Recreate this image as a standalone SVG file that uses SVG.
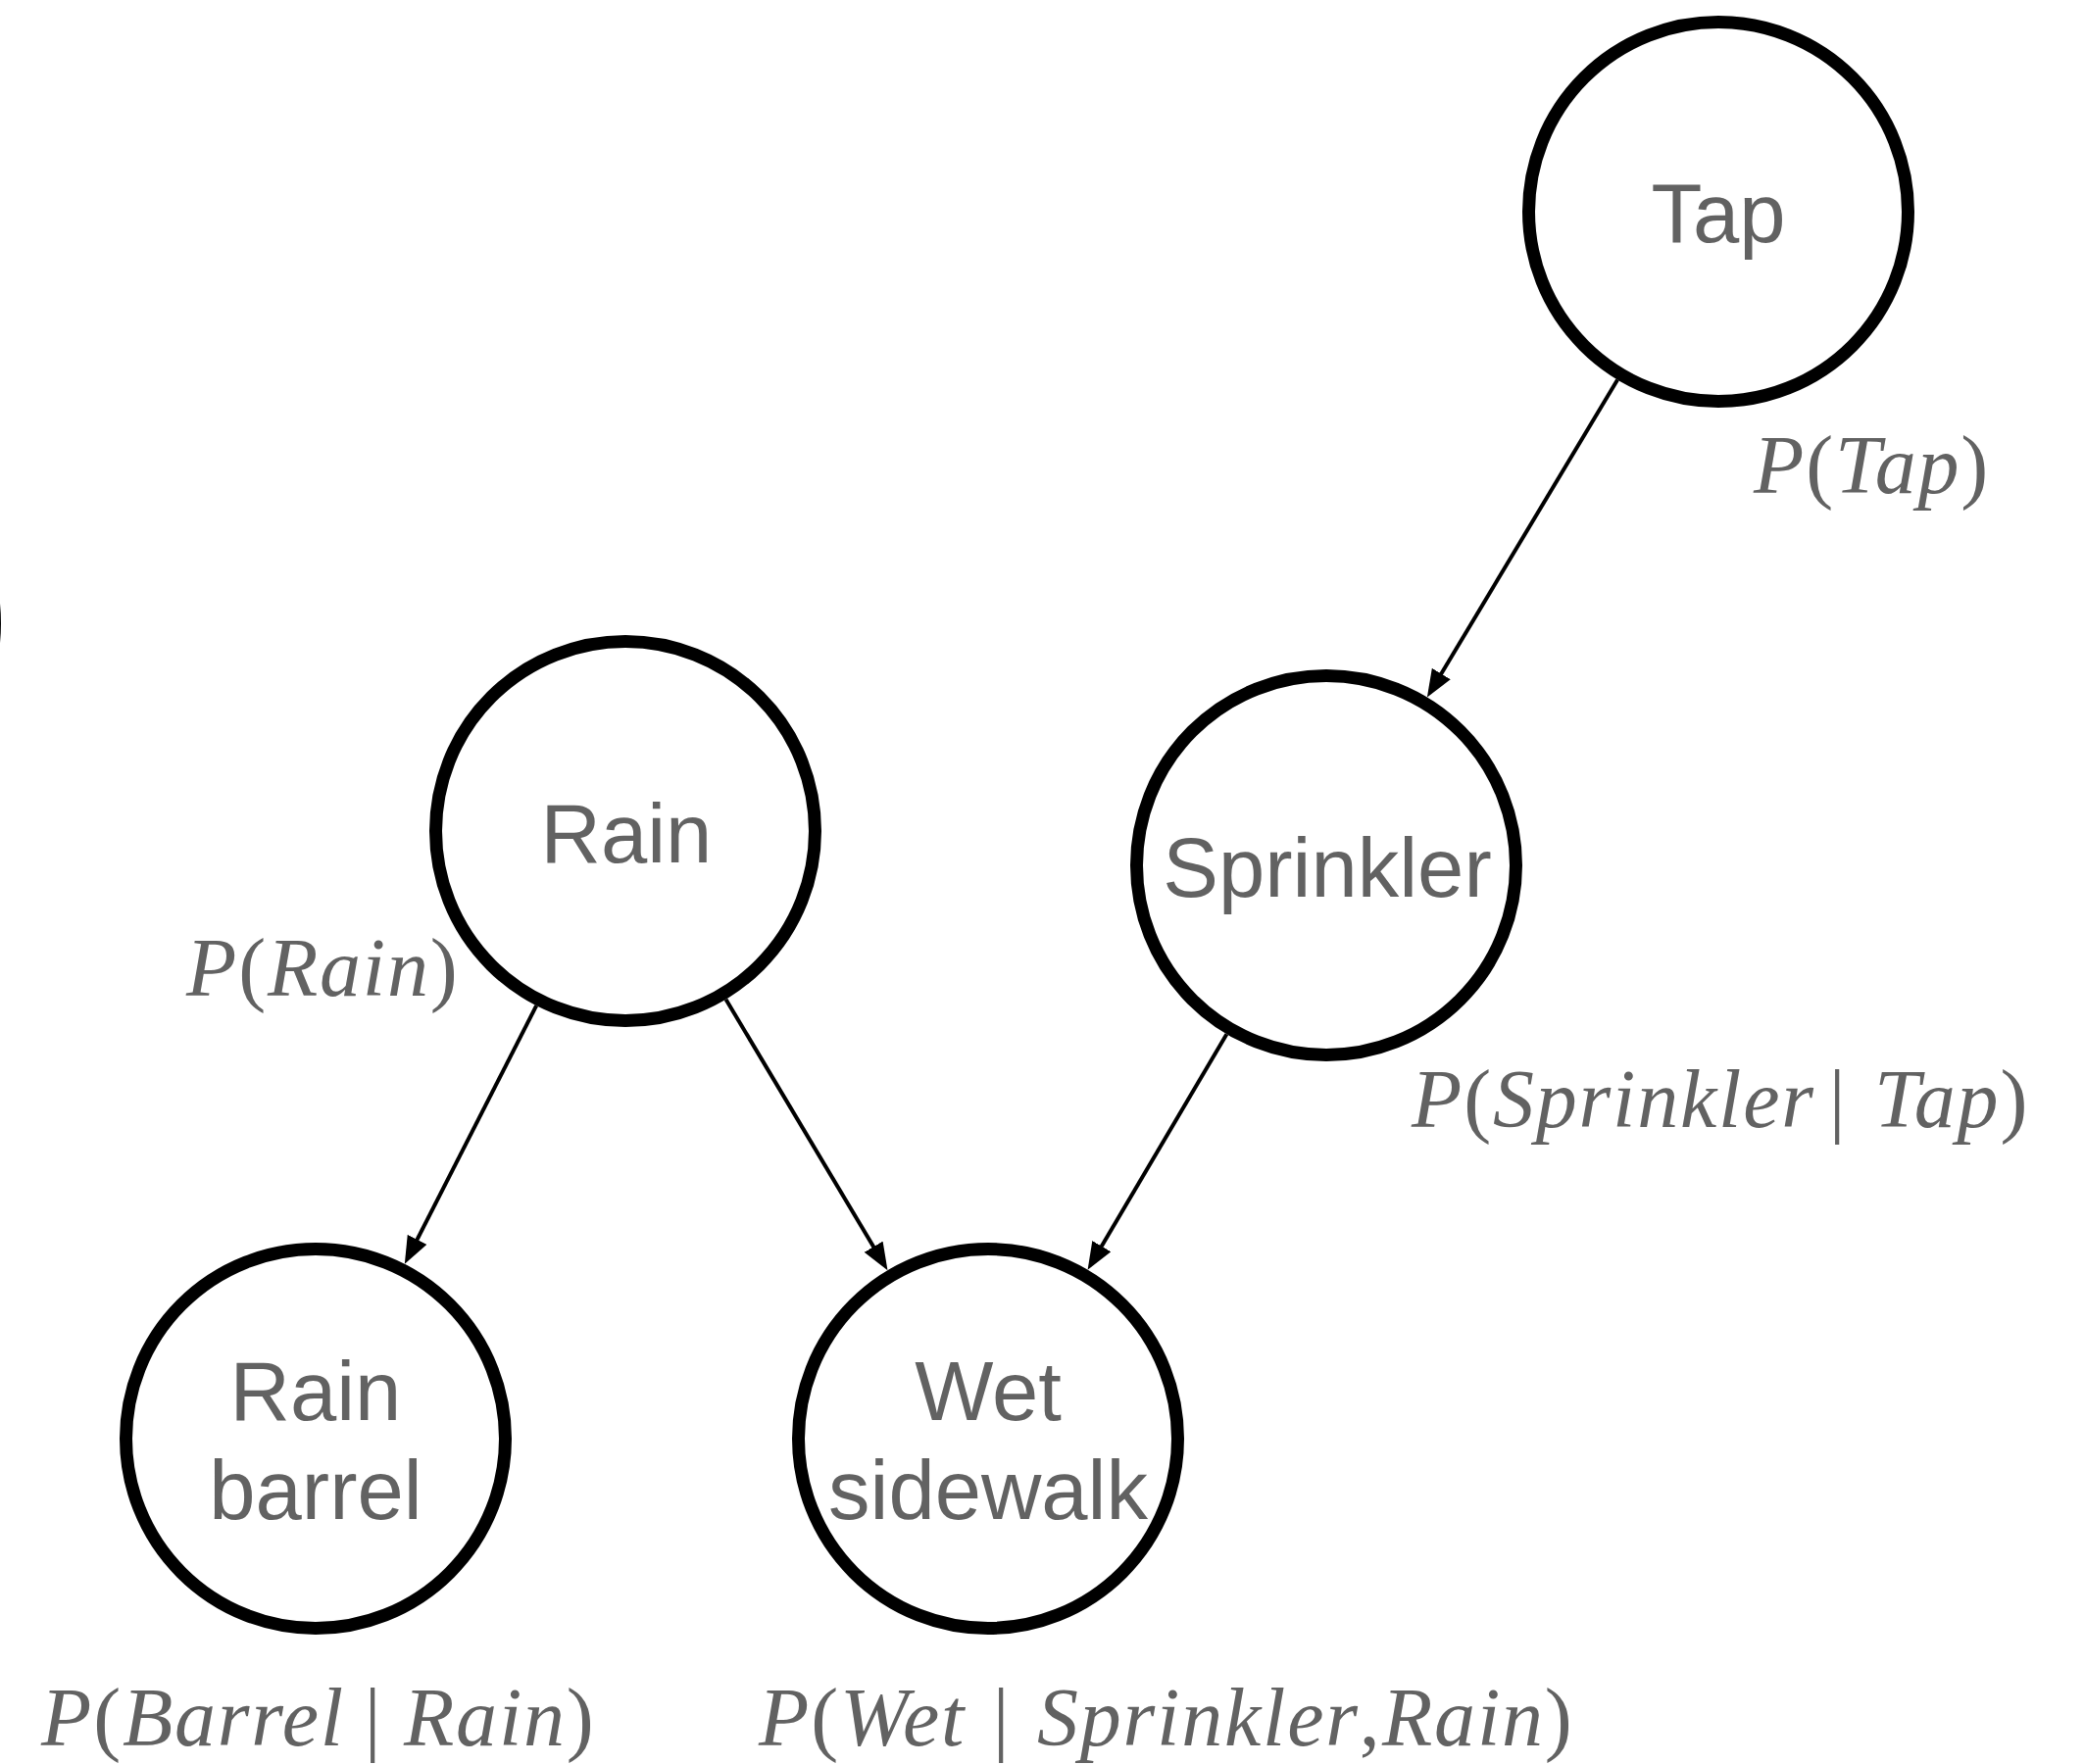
<svg xmlns="http://www.w3.org/2000/svg" width="2126" height="1800" viewBox="0 0 2126 1800">
<style>
.node{fill:#ffffff;stroke:#000000;stroke-width:13}
.lbl{font-family:"Liberation Sans",Arial,Helvetica,sans-serif;font-size:85px;fill:#626262;text-anchor:middle}
.prob{font-family:"Liberation Serif","Times New Roman",serif;font-size:84px;font-style:italic;fill:#626262;letter-spacing:1.8px}
.up{font-style:normal}
.edge{stroke:#000000;stroke-width:4;fill:none;marker-end:url(#arrow)}
</style>
<defs>
<marker id="arrow" markerUnits="userSpaceOnUse" markerWidth="28" markerHeight="22" viewBox="0 0 28 22" refX="14" refY="11" orient="auto">
<path d="M0,0 L28,11 L0,22 Z" fill="#000000"/>
</marker>
</defs>
<rect x="0" y="0" width="2126" height="1800" fill="#ffffff"/>
<circle cx="-199" cy="636" r="193.5" class="node"/>
<g id="connectors">
<line class="edge" x1="1650.1" y1="387.5" x2="1463.1" y2="699.5"/>
<line class="edge" x1="547.2" y1="1026.2" x2="419.2" y2="1277.3"/>
<line class="edge" x1="740.5" y1="1019.7" x2="898.3" y2="1284.2"/>
<line class="edge" x1="1251.4" y1="1055.3" x2="1116.7" y2="1283.7"/>
</g>
<g id="node-tap">
<circle cx="1753" cy="216" r="193.5" class="node"/>
<text class="lbl" x="1753" y="247">Tap</text>
<text class="prob" x="1789" y="503">P<tspan class="up">(</tspan>Tap<tspan class="up">)</tspan></text>
</g>
<g id="node-sprinkler">
<circle cx="1353" cy="883" r="193.5" class="node"/>
<text class="lbl" x="1354" y="915">Sprinkler</text>
<text class="prob" x="1440" y="1150">P<tspan class="up">(</tspan>Sprinkler</text>
<text class="prob up" x="1875" y="1150" text-anchor="middle">|</text>
<text class="prob" x="1912" y="1150">Tap<tspan class="up">)</tspan></text>
</g>
<g id="node-rain">
<circle cx="638" cy="848" r="193.5" class="node"/>
<text class="lbl" x="639" y="880">Rain</text>
<text class="prob" x="190" y="1016">P<tspan class="up">(</tspan>Rain<tspan class="up">)</tspan></text>
</g>
<g id="node-barrel">
<circle cx="322" cy="1468" r="193.5" class="node"/>
<text class="lbl" x="322" y="1449">Rain</text>
<text class="lbl" x="322" y="1550">barrel</text>
<text class="prob" x="42" y="1781">P<tspan class="up">(</tspan>Barrel</text>
<text class="prob up" x="381" y="1781" text-anchor="middle">|</text>
<text class="prob" x="412" y="1781">Rain<tspan class="up">)</tspan></text>
</g>
<g id="node-wet">
<circle cx="1008" cy="1468" r="193.5" class="node"/>
<text class="lbl" x="1008" y="1449">Wet</text>
<text class="lbl" x="1008" y="1550">sidewalk</text>
<text class="prob" x="774" y="1781">P<tspan class="up">(</tspan>Wet</text>
<text class="prob up" x="1022" y="1781" text-anchor="middle">|</text>
<text class="prob" x="1058" y="1781">Sprinkler<tspan class="up">,</tspan></text>
<text class="prob" x="1410" y="1781">Rain<tspan class="up">)</tspan></text>
</g>
</svg>
